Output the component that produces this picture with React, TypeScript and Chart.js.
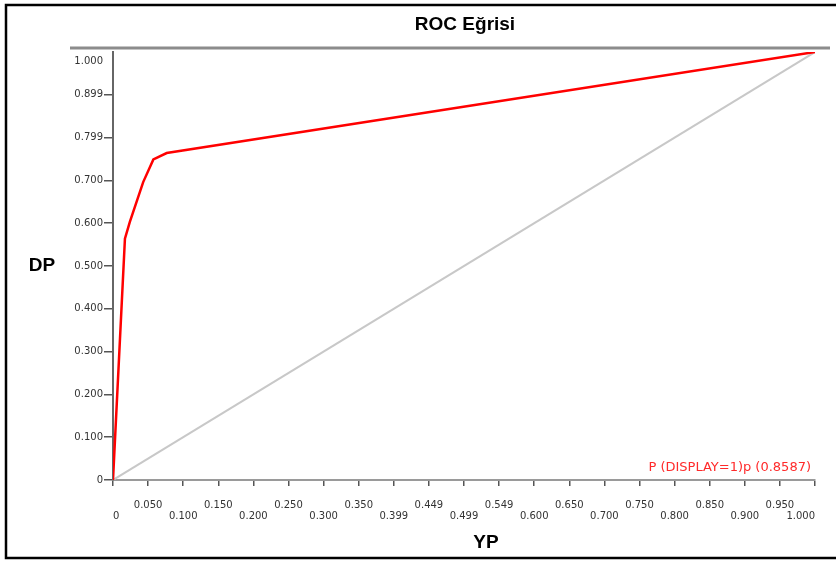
import React, { useEffect, useRef } from "react";
import { Chart, registerables } from "chart.js";

Chart.register(...registerables);

// ROC curve points (false positive rate = YP, true positive rate = DP)
const rocFpr = [0, 0.017, 0.024, 0.043, 0.0575, 0.0765, 1.0];
const rocTpr = [0, 0.564, 0.603, 0.696, 0.749, 0.764, 1.0];
// Reference diagonal
const refFpr = [0, 1];
const refTpr = [0, 1];

const xTickValues = [0, 0.05, 0.1, 0.15, 0.2, 0.25, 0.3, 0.35, 0.4, 0.45, 0.5, 0.55, 0.6, 0.65, 0.7, 0.75, 0.8, 0.85, 0.9, 0.95, 1.0];
const xTickLabels = ["0", "0.050", "0.100", "0.150", "0.200", "0.250", "0.300", "0.350", "0.399", "0.449", "0.499", "0.549", "0.600", "0.650", "0.700", "0.750", "0.800", "0.850", "0.900", "0.950", "1.000"];
const yTickValues = [0, 0.1, 0.2, 0.3, 0.4, 0.5, 0.6, 0.7, 0.8, 0.9];
const yTickLabels = ["0", "0.100", "0.200", "0.300", "0.400", "0.500", "0.600", "0.700", "0.799", "0.899"];
const yTopLabel = "1.000";

const chartTitle = "ROC Eğrisi";
const yAxisTitle = "DP";
const xAxisTitle = "YP";
const curveLabel = "P (DISPLAY=1)p (0.8587)";

const TICK_FONT = { family: "'DejaVu Sans', sans-serif", size: 10, lineHeight: 1.1 };

export default function App() {
  const ref = useRef<HTMLCanvasElement | null>(null);

  useEffect(() => {
    if (!ref.current) return;

    const decor = {
      id: "decor",
      afterDraw(chart: any) {
        const ctx = chart.ctx;
        const area = chart.chartArea;
        const ys = chart.scales.y;
        ctx.save();
        // outer frame
        ctx.strokeStyle = "#000";
        ctx.lineWidth = 2.5;
        ctx.strokeRect(6, 5, 900, 553);
        // top gray bar
        ctx.strokeStyle = "#8c8c8c";
        ctx.lineWidth = 3;
        ctx.beginPath();
        ctx.moveTo(70, area.top - 4);
        ctx.lineTo(830, area.top - 4);
        ctx.stroke();
        // title
        ctx.fillStyle = "#000";
        ctx.textAlign = "center";
        ctx.textBaseline = "middle";
        ctx.font = "bold 19px 'Liberation Sans', Arial, sans-serif";
        ctx.fillText(chartTitle, 465, 25);
        // axis titles
        ctx.fillText(yAxisTitle, 42, 266);
        ctx.fillText(xAxisTitle, 486, 543);
        // top y label
        ctx.font = "10px 'DejaVu Sans', sans-serif";
        ctx.fillStyle = "#333";
        ctx.textAlign = "right";
        ctx.fillText(yTopLabel, 103, ys.getPixelForValue(1) + 9);
        // curve label
        ctx.font = "13px 'DejaVu Sans', sans-serif";
        ctx.fillStyle = "#ff2a2a";
        ctx.textAlign = "right";
        ctx.fillText(curveLabel, area.right - 4, area.bottom - 12);
        ctx.restore();
      },
    };

    const chart = new Chart(ref.current, {
      type: "scatter",
      data: {
        datasets: [
          {
            label: "diag",
            data: refFpr.map((x, i) => ({ x, y: refTpr[i] })),
            showLine: true,
            borderColor: "#c8c8c8",
            borderWidth: 2,
            pointRadius: 0,
            order: 2,
          },
          {
            label: curveLabel,
            data: rocFpr.map((x, i) => ({ x, y: rocTpr[i] })),
            showLine: true,
            borderColor: "#ff0000",
            borderWidth: 2.5,
            pointRadius: 0,
            order: 1,
          },
        ],
      },
      options: {
        animation: false,
        responsive: false,
        devicePixelRatio: 1,
        layout: { padding: { top: 52, right: 21, left: 0, bottom: 0 } },
        plugins: { legend: { display: false }, title: { display: false }, tooltip: { enabled: false } },
        scales: {
          x: {
            type: "linear",
            min: 0,
            max: 1,
            afterBuildTicks: (s: any) => {
              s.ticks = xTickValues.map((v) => ({ value: v }));
            },
            afterFit: (s: any) => {
              s.height = 81;
              s.paddingLeft = 0;
              s.paddingRight = 0;
            },
            grid: { display: true, drawOnChartArea: false, drawTicks: true, tickLength: 6, color: "#555", lineWidth: 1.5 },
            border: { display: true, color: "#9a9a9a", width: 2 },
            ticks: {
              autoSkip: false,
              maxRotation: 0,
              minRotation: 0,
              padding: 14,
              color: "#333",
              font: TICK_FONT,
              callback: (_v: any, i: number) => {
                let lbl = xTickLabels[i];
                if (i === 0) lbl = "  " + lbl;
                if (i === xTickLabels.length - 1) lbl = lbl + "         ";
                return i % 2 === 1 ? [lbl, ""] : ["", lbl];
              },
            },
          },
          y: {
            type: "linear",
            min: 0,
            max: 1,
            afterBuildTicks: (s: any) => {
              s.ticks = yTickValues.map((v) => ({ value: v }));
            },
            afterFit: (s: any) => {
              s.width = 113;
              s.paddingTop = 0;
              s.paddingBottom = 0;
            },
            grid: { display: true, drawOnChartArea: false, drawTicks: true, tickLength: 9, color: "#555", lineWidth: 1.5 },
            border: { display: true, color: "#666", width: 2 },
            ticks: {
              autoSkip: false,
              padding: 1,
              color: "#333",
              font: { family: "'DejaVu Sans', sans-serif", size: 10 },
              callback: (_v: any, i: number) => yTickLabels[i],
            },
          },
        },
      },
      plugins: [decor],
    });
    return () => chart.destroy();
  }, []);

  return (
    <div style={{ position: "absolute", left: 0, top: 0, width: 836, height: 561, background: "#fff" }}>
      <canvas ref={ref} width={836} height={561} style={{ width: 836, height: 561, display: "block" }} />
    </div>
  );
}
